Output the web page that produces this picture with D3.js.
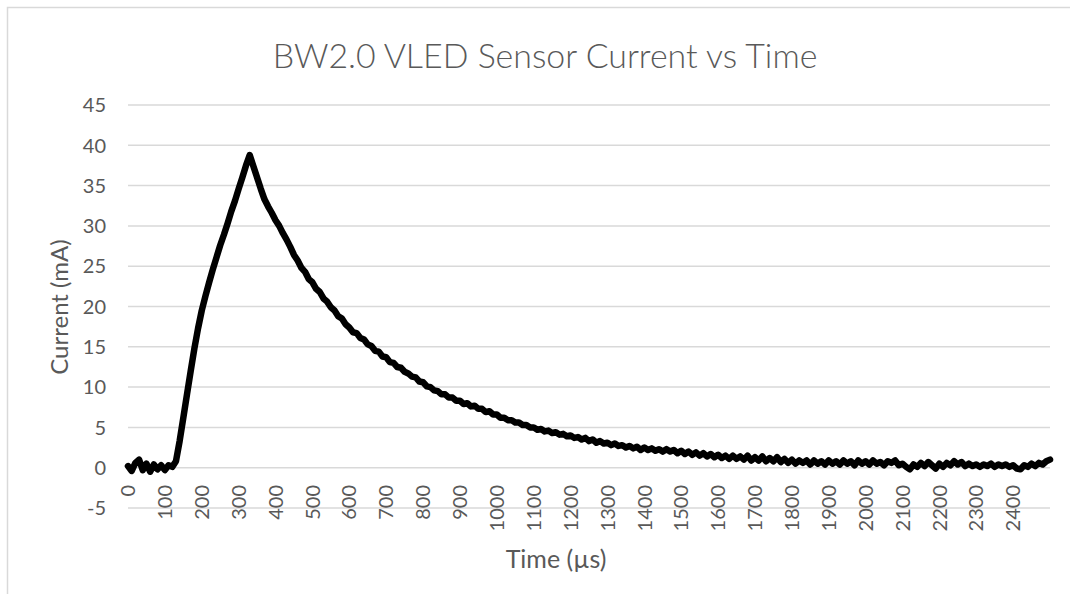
<!DOCTYPE html>
<html>
<head>
<meta charset="utf-8">
<script src="https://cdn.jsdelivr.net/npm/d3@7"></script>
<style>
  html, body { margin: 0; padding: 0; background: #fff; }
  svg { display: block; }
</style>
</head>
<body>
<script>
// sampling interval of the trace, in µs
const sampleStep = 10;

// current readings (mA), one every 10 µs from 0 to 2500 µs
const current = [
  0.2, -0.4, 0.6, 1.0, -0.3, 0.5, -0.5, 0.4, -0.2, 0.3,
  -0.3, 0.3, 0.1, 0.8, 3.3, 6.2, 9.1, 12.0, 14.8, 17.3,
  19.5, 21.3, 23.0, 24.6, 26.1, 27.6, 28.9, 30.3, 31.8, 33.1,
  34.6, 36.0, 37.5, 38.8, 37.4, 36.0, 34.6, 33.3, 32.4, 31.6,
  30.7, 30.0, 29.1, 28.3, 27.4, 26.4, 25.7, 24.8, 24.3, 23.4,
  23.0, 22.2, 21.8, 21.0, 20.6, 19.9, 19.5, 18.8, 18.5, 17.8,
  17.4, 16.8, 16.7, 16.1, 15.9, 15.3, 15.1, 14.5, 14.4, 13.8,
  13.7, 13.1, 13.0, 12.5, 12.4, 11.9, 11.7, 11.3, 11.2, 10.7,
  10.6, 10.1, 10.0, 9.6, 9.5, 9.1, 9.1, 8.7, 8.7, 8.3,
  8.3, 7.9, 8.0, 7.6, 7.7, 7.3, 7.3, 6.9, 7.0, 6.6,
  6.6, 6.2, 6.2, 5.9, 5.9, 5.6, 5.6, 5.3, 5.3, 5.0,
  5.0, 4.7, 4.8, 4.5, 4.6, 4.3, 4.4, 4.1, 4.2, 3.9,
  4.0, 3.7, 3.8, 3.5, 3.7, 3.3, 3.5, 3.1, 3.3, 3.0,
  3.1, 2.8, 3.0, 2.7, 2.8, 2.5, 2.7, 2.4, 2.6, 2.2,
  2.5, 2.2, 2.4, 2.1, 2.3, 2.0, 2.3, 2.0, 2.2, 1.8,
  2.1, 1.7, 2.0, 1.6, 1.9, 1.5, 1.8, 1.4, 1.7, 1.3,
  1.6, 1.2, 1.5, 1.1, 1.5, 1.1, 1.4, 1.0, 1.5, 0.9,
  1.3, 0.9, 1.4, 0.8, 1.2, 0.8, 1.3, 0.7, 1.1, 0.6,
  1.0, 0.5, 0.9, 0.6, 0.9, 0.4, 0.9, 0.5, 0.8, 0.4,
  0.9, 0.5, 0.8, 0.4, 0.9, 0.5, 0.8, 0.3, 0.9, 0.5,
  0.8, 0.4, 0.9, 0.5, 0.7, 0.3, 0.8, 0.6, 0.9, 0.3,
  0.5, 0.1, -0.2, 0.4, 0.1, 0.6, 0.2, 0.7, 0.3, -0.1,
  0.5, 0.1, 0.6, 0.3, 0.8, 0.4, 0.7, 0.2, 0.5, 0.2,
  0.4, 0.1, 0.4, 0.2, 0.5, 0.1, 0.4, 0.2, 0.4, 0.1,
  0.3, -0.1, -0.2, 0.3, 0.1, 0.5, 0.2, 0.6, 0.4, 0.8,
  1.0
];

// axis tick labels
const xTicks = [0, 100, 200, 300, 400, 500, 600, 700, 800, 900, 1000, 1100, 1200,
  1300, 1400, 1500, 1600, 1700, 1800, 1900, 2000, 2100, 2200, 2300, 2400];
const yTicks = [-5, 0, 5, 10, 15, 20, 25, 30, 35, 40, 45];

const W = 1070, H = 594;
const plot = {left: 128, right: 1050, top: 105, bottom: 508};
const font = "Lato, 'Open Sans', sans-serif";
const textColor = "#595959";

const data = current.map((v, i) => ({t: i * sampleStep, v: v}));

const svg = d3.select("body").append("svg")
  .attr("width", W)
  .attr("height", H);

// chart area border
svg.append("rect")
  .attr("x", 7.5).attr("y", 7.5)
  .attr("width", W + 20).attr("height", H + 20)
  .attr("fill", "#fff")
  .attr("stroke", "#d9d9d9")
  .attr("stroke-width", 1.5);

let x = d3.scaleLinear()
  .domain([0, 2500])
  .range([plot.left, plot.right]);

let y = d3.scaleLinear()
  .domain([-5, 45])
  .range([plot.bottom, plot.top]);

// gridlines
svg.append("g")
  .selectAll("line")
  .data(yTicks)
  .enter()
  .append("line")
  .attr("x1", plot.left)
  .attr("x2", plot.right)
  .attr("y1", d => y(d))
  .attr("y2", d => y(d))
  .attr("stroke", "#d9d9d9")
  .attr("stroke-width", 1.5);

// y tick labels
svg.append("g")
  .selectAll("text")
  .data(yTicks)
  .enter()
  .append("text")
  .attr("x", 106)
  .attr("y", d => y(d))
  .attr("dy", "0.36em")
  .attr("text-anchor", "end")
  .style("font-family", font)
  .style("font-size", "20px")
  .style("fill", textColor)
  .text(d => d);

// x tick labels, rotated
svg.append("g")
  .selectAll("text")
  .data(xTicks)
  .enter()
  .append("text")
  .attr("transform", d => "translate(" + x(d) + ",485) rotate(-90)")
  .attr("dy", "0.36em")
  .attr("text-anchor", "end")
  .style("font-family", font)
  .style("font-size", "20px")
  .style("fill", textColor)
  .text(d => d);

// trace
let line = d3.line()
  .x(d => x(d.t))
  .y(d => y(d.v));

svg.append("path")
  .datum(data)
  .attr("d", line)
  .attr("fill", "none")
  .attr("stroke", "#000")
  .attr("stroke-width", 6.5)
  .attr("stroke-linejoin", "round")
  .attr("stroke-linecap", "round");

// title
let title = svg.append("text")
  .attr("x", 545)
  .attr("y", 68)
  .attr("text-anchor", "middle")
  .style("font-family", font)
  .style("font-weight", 300)
  .style("font-size", "32px")
  .style("fill", textColor)
  .text("BW2.0 VLED Sensor Current vs Time");
// scale title to the reference width
let tw = title.node().getComputedTextLength();
title.style("font-size", (32 * 545 / tw) + "px");

// axis titles
svg.append("text")
  .attr("transform", "translate(68,307) rotate(-90)")
  .attr("text-anchor", "middle")
  .style("font-family", font)
  .style("font-size", "24px")
  .style("fill", textColor)
  .text("Current (mA)");

svg.append("text")
  .attr("x", 556)
  .attr("y", 568)
  .attr("text-anchor", "middle")
  .style("font-family", font)
  .style("font-size", "25px")
  .style("fill", textColor)
  .text("Time (µs)");
</script>
</body>
</html>
